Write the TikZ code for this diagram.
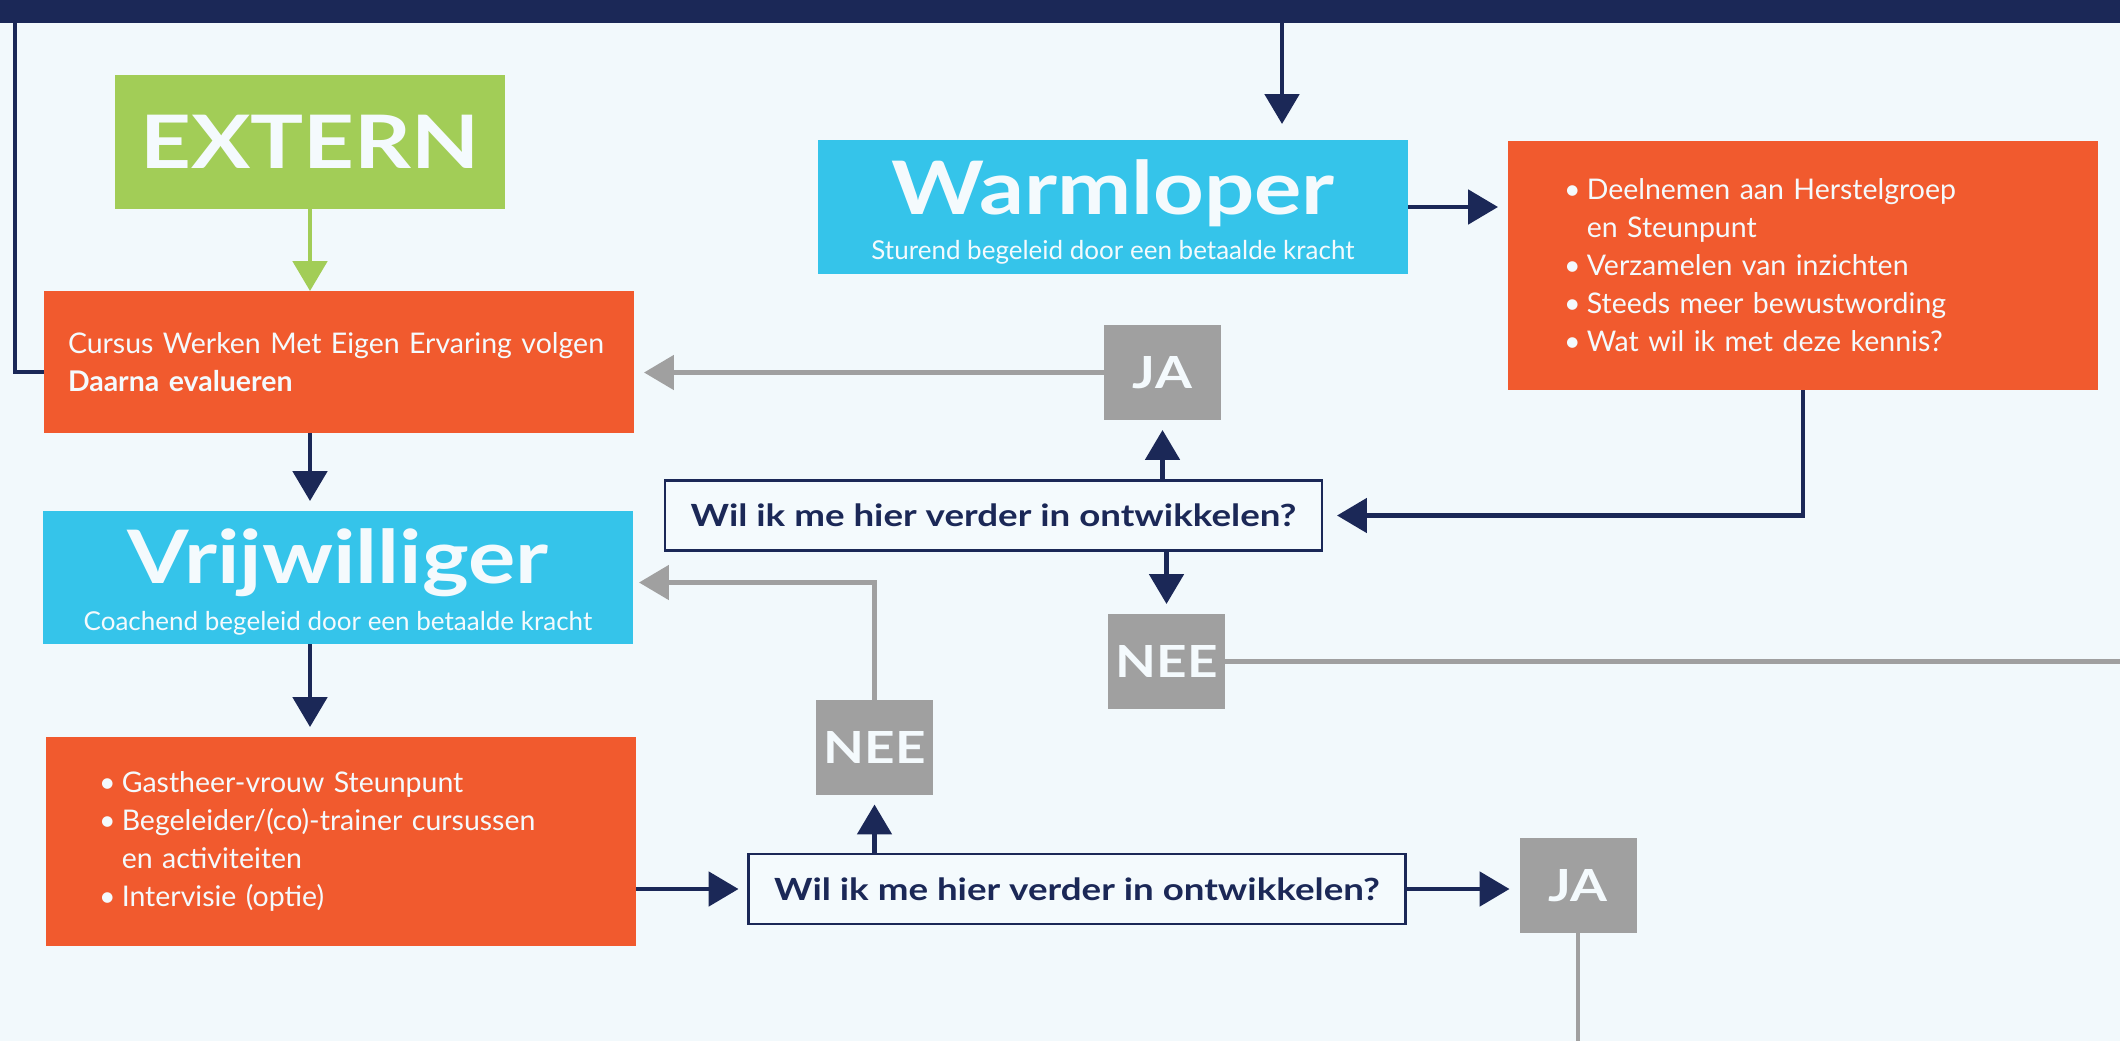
\documentclass[tikz,border=0pt]{standalone}
\usepackage{fontspec}
\setmainfont{Lato}
\usepackage{tikz}
\usetikzlibrary{arrows.meta,positioning}

\definecolor{achtergrond}{HTML}{F2F9FC}
\definecolor{licht}{HTML}{F4FAFD}
\definecolor{navy}{HTML}{1B2857}
\definecolor{groen}{HTML}{A2CD57}
\definecolor{oranje}{HTML}{F15A2E}
\definecolor{cyaan}{HTML}{35C4EA}
\definecolor{grijs}{HTML}{A0A0A0}

\newcommand{\breed}[1]{\scalebox{1.2}[1]{#1}}
\newcommand{\opsom}{\makebox[0.8em][l]{\textbullet}}
\newcommand{\inspring}{\hspace*{0.8em}}

\begin{document}
\begin{tikzpicture}[
    every node/.style={inner sep=0pt, outer sep=0pt},
    blok/.style={rectangle, minimum width=5.9cm},
    lijst/.style={align=left, text=licht, font=\fontsize{8.1}{10.8}\selectfont},
    kopje/.style={text=licht, font=\fontsize{21}{25}\selectfont\bfseries},
    sub/.style={text=licht, font=\fontsize{7.4}{9}\selectfont},
    keuze/.style={rectangle, fill=grijs, minimum width=1.17cm, minimum height=0.95cm, text=licht, font=\fontsize{12.6}{14}\selectfont\bfseries},
    vraag/.style={rectangle, draw=navy, line width=0.8pt, fill=licht, minimum width=6.57cm, minimum height=0.7cm, text=navy, font=\fontsize{8.7}{10}\selectfont\bfseries},
    lijn/.style={draw=navy, line width=1.3pt},
    pijl/.style={lijn, -{Triangle[length=8.5pt,width=9.7pt]}, shorten >=0.1cm},
    grijspijl/.style={pijl, draw=grijs},
    grijslijn/.style={draw=grijs, line width=1.3pt},
    groenpijl/.style={pijl, draw=groen, shorten >=0cm}
]
    \useasboundingbox (0,0) rectangle (21.2,10.41);
    \fill[achtergrond] (0,0) rectangle (21.2,10.41);

    % Balk bovenaan
    \fill[navy] (0,10.18) rectangle (21.2,10.41);
    \coordinate (links) at (0.15,10.18);
    \coordinate (boven) at (12.82,10.18);
    \coordinate (rechts) at (21.2,0);
    \coordinate (onder) at (0,0);

    % Extern en cursus
    \node[blok, fill=groen, minimum width=3.9cm, minimum height=1.34cm, kopje] (extern) at (3.10,8.99) {\breed{EXTERN}};
    \node[blok, fill=oranje, minimum height=1.42cm, lijst, text width=5.42cm, inner xsep=0.24cm] (cursus) at (3.39,6.79)
        {Cursus Werken Met Eigen Ervaring volgen\\ \textbf{Daarna evalueren}};

    % Warmloper
    \node[blok, fill=cyaan, minimum height=1.34cm] (warm) at (11.13,8.34) {};
    \node[kopje, anchor=base] (warmT) at ([yshift=-0.07cm]warm.center) {\breed{Warmloper}};
    \node[sub, anchor=base] (warmS) at ([yshift=-0.52cm]warm.center) {Sturend begeleid door een betaalde kracht};

    % Lijst rechtsboven
    \node[blok, fill=oranje, minimum height=2.49cm, lijst, text width=4.78cm, inner xsep=0.56cm] (taken1) at (18.03,7.755)
        {\opsom Deelnemen aan Herstelgroep\\ \inspring en Steunpunt\\ \opsom Verzamelen van inzichten\\ \opsom Steeds meer bewustwording\\ \opsom Wat wil ik met deze kennis?};

    % Eerste vraag
    \node[vraag] (vraag1) at (9.935,5.255) {\breed{Wil ik me hier verder in ontwikkelen?}};
    \node[keuze] (ja1) at (11.625,6.685) {\breed{JA}};
    \node[keuze] (nee1) at (11.665,3.795) {\breed{NEE}};

    % Vrijwilliger
    \node[blok, fill=cyaan, minimum height=1.33cm] (vrij) at (3.38,4.635) {};
    \node[kopje, anchor=base] (vrijT) at ([yshift=-0.055cm]vrij.center) {\breed{Vrijwilliger}};
    \node[sub, anchor=base] (vrijS) at ([yshift=-0.525cm]vrij.center) {Coachend begeleid door een betaalde kracht};

    % Lijst linksonder
    \node[blok, fill=oranje, minimum height=2.09cm, lijst, text width=4.84cm, inner xsep=0.53cm] (taken2) at (3.41,1.995)
        {\opsom Gastheer-vrouw Steunpunt\\ \opsom Begeleider/(co)-trainer cursussen\\ \inspring en activiteiten\\ \opsom Intervisie (optie)};

    % Tweede vraag
    \node[vraag] (vraag2) at (10.77,1.52) {\breed{Wil ik me hier verder in ontwikkelen?}};
    \node[keuze] (nee2) at (8.745,2.94) {\breed{NEE}};
    \node[keuze] (ja2) at (15.78,1.555) {\breed{JA}};

    % Verbindingen
    \draw[lijn] (links) |- ([yshift=-0.1cm]cursus.west);
    \draw[pijl, shorten >=0.16cm] (boven) -- (boven |- warm.north);
    \draw[groenpijl] (extern.south) -- (extern.south |- cursus.north);
    \draw[pijl] (cursus.south -| extern.south) -- (vrij.north -| extern.south);
    \draw[pijl] (vrij.south -| extern.south) -- (taken2.north -| extern.south);
    \draw[pijl] (warm.east) -- (warm.east -| taken1.west);
    \draw[pijl, shorten >=0.15cm] (taken1.south) |- (vraag1.east);
    \draw[pijl] (vraag1.north -| ja1.south) -- (ja1.south);
    \draw[pijl] (vraag1.south -| nee1.north) -- (nee1.north);
    \draw[grijspijl] (ja1.west) -- (ja1.west -| cursus.east);
    \draw[grijslijn] (nee1.east) -- (nee1.east -| rechts);
    \draw[grijspijl, shorten >=0.06cm] (nee2.north) |- ([yshift=-0.05cm]vrij.east);
    \draw[pijl] (vraag2.north -| nee2.south) -- (nee2.south);
    \draw[pijl] (vraag2.west -| taken2.east) -- (vraag2.west);
    \draw[pijl] (vraag2.east) -- (vraag2.east -| ja2.west);
    \draw[grijslijn] (ja2.south) -- (ja2.south |- onder);
\end{tikzpicture}
\end{document}
